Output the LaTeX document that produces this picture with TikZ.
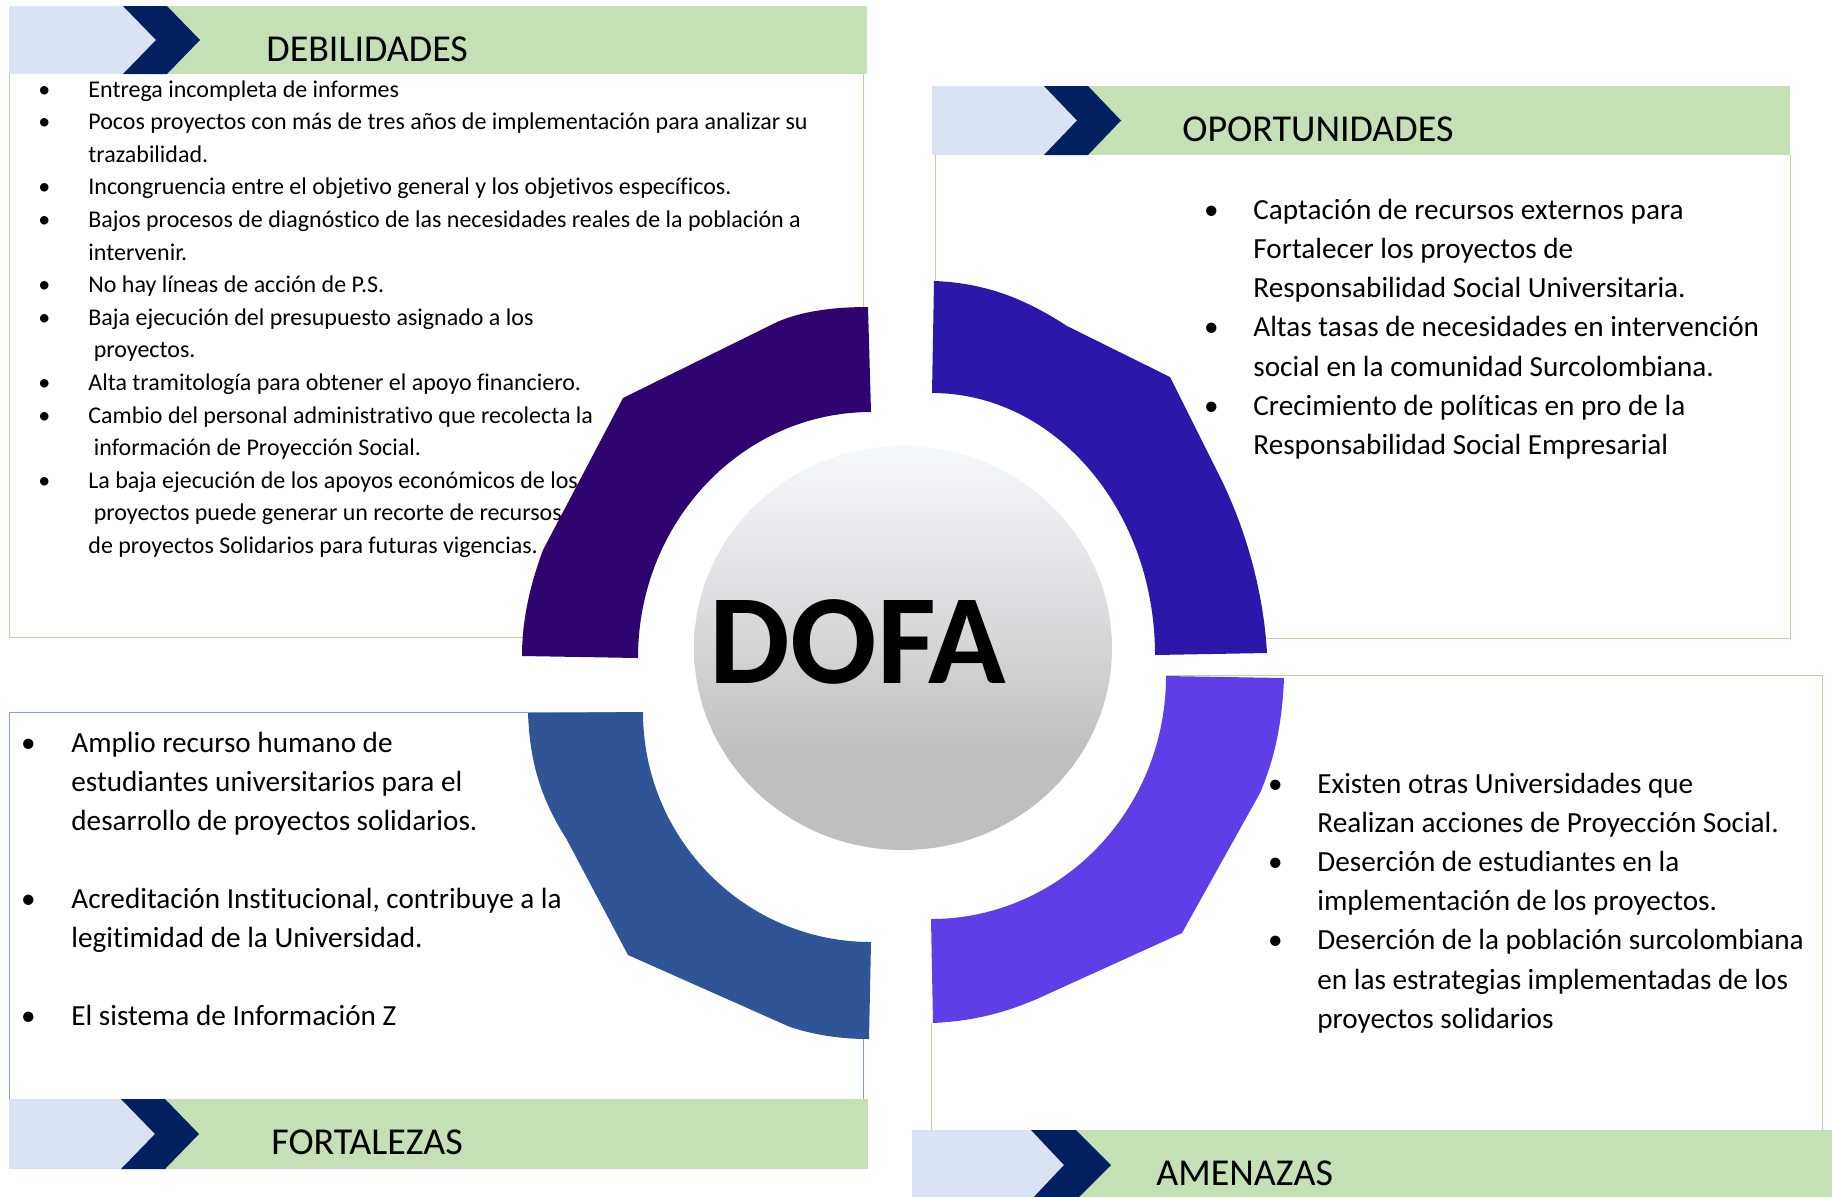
\documentclass[tikz,border=0pt]{standalone}
\usepackage{fontspec}
\setmainfont{Carlito}[Ligatures=NoCommon]
\usepackage{array}
\usepackage{tikz}
\usetikzlibrary{shapes.geometric}

\definecolor{azulClaro}{HTML}{DAE3F3}
\definecolor{azulOscuro}{HTML}{002060}
\definecolor{verdeClaro}{HTML}{C5E0B4}
\definecolor{bordeVerde}{HTML}{B4D79C}
\definecolor{bordeAzul}{HTML}{7F9FD6}
\definecolor{arcoDeb}{HTML}{2E0470}
\definecolor{arcoOp}{HTML}{2B17A9}
\definecolor{arcoFor}{HTML}{2F5597}
\definecolor{arcoAm}{HTML}{5F3EE8}
\definecolor{grisA}{HTML}{F6F9FC}
\definecolor{grisM}{HTML}{D4D5D7}
\definecolor{grisB}{HTML}{BFBFBF}
\pgfdeclareverticalshading{dofabola}{100bp}{color(0bp)=(grisB); color(37bp)=(grisB); color(50bp)=(grisM); color(75bp)=(grisA); color(100bp)=(grisA)}

\begin{document}
\begin{tikzpicture} [x=0.5pt, y=-0.5pt,
                cinta/.style={fill=verdeClaro},
                cola/.style={fill=azulClaro},
                chevron/.style={fill=azulOscuro},
                titulo/.style={anchor=base west, inner sep=0pt, font=\fontsize{19}{19}\selectfont},
                lista/.style={anchor=base west, inner sep=0pt, align=left},
                marco/.style={draw=bordeVerde, line width=0.5pt},
                marcoAzul/.style={draw=bordeAzul, line width=0.5pt},
                bola/.style={ellipse, minimum width=209pt, minimum height=202pt, inner sep=0pt, shading=dofabola},
                dofaTxt/.style={anchor=base, inner sep=0pt, font=\fontsize{64}{64}\selectfont\bfseries}
            ]
            \useasboundingbox (0,0) rectangle (1832,1196);
            \clip (0,0) rectangle (1832,1196);

            % Box borders
            \draw[marco] (863,307) -- (863,74);
            \draw[marco] (9,74) -- (9,637) -- (523,637);
            \draw[marco] (935,281) -- (935,155);
            \draw[marco] (1790,155) -- (1790,638) -- (1267,638);
            \draw[marcoAzul] (631,712) -- (9,712) -- (9,1099);
            \draw[marcoAzul] (863,1039) -- (863,1099);
            \draw[marco] (1166,675) -- (1822,675) -- (1822,1130);
            \draw[marco] (931,1023) -- (931,1130);

            % Debilidades header
            \begin{scope}
                \fill[cinta] (9,6) rectangle (867,74);
                \fill[cola] (9,6) rectangle (167,74);
                \fill[chevron] (123,6) -- (167,6) -- (200,40) -- (167,74) -- (123,74) -- (156,40) -- cycle;
                \node[titulo] (debTit) at (266,61) {DEBILIDADES};
            \end{scope}

            % Oportunidades header
            \begin{scope}
                \fill[cinta] (932,86) rectangle (1790,155);
                \fill[cola] (932,86) rectangle (1088,155);
                \fill[chevron] (1044,86) -- (1088,86) -- (1121,120.5) -- (1088,155) -- (1044,155) -- (1077,120.5) -- cycle;
                \node[titulo] (opTit) at (1182,141) {OPORTUNIDADES};
            \end{scope}

            % Fortalezas header
            \begin{scope}
                \fill[cinta] (9,1099) rectangle (868,1169);
                \fill[cola] (9,1099) rectangle (165,1169);
                \fill[chevron] (121,1099) -- (165,1099) -- (199,1134) -- (165,1169) -- (121,1169) -- (155,1134) -- cycle;
                \node[titulo] (forTit) at (271,1154) {FORTALEZAS};
            \end{scope}

            % Amenazas header
            \begin{scope}
                \fill[cinta] (912,1130) rectangle (1832,1200);
                \fill[cola] (912,1130) rectangle (1076,1200);
                \fill[chevron] (1031,1130) -- (1076,1130) -- (1111,1165) -- (1076,1200) -- (1031,1200) -- (1064,1165) -- cycle;
                \node[titulo] (amTit) at (1156,1185) {AMENAZAS};
            \end{scope}

            % Lists
            \node[lista, font=\fontsize{12}{16.3}\selectfont] (debLista) at (0,97) {%
                \begin{tabular}[t]{@{}>{\centering\arraybackslash}p{44pt}@{}l@{}}
                \textbullet & Entrega incompleta de informes\\
                \textbullet & Pocos proyectos con más de tres años de implementación para analizar su\\
                 & trazabilidad.\\
                \textbullet & Incongruencia entre el objetivo general y los objetivos específicos.\\
                \textbullet & Bajos procesos de diagnóstico de las necesidades reales de la población a\\
                 & intervenir.\\
                \textbullet & No hay líneas de acción de P.S.\\
                \textbullet & Baja ejecución del presupuesto asignado a los\\
                 & \ proyectos.\\
                \textbullet & Alta tramitología para obtener el apoyo financiero.\\
                \textbullet & Cambio del personal administrativo que recolecta la\\
                 & \ información de Proyección Social.\\
                \textbullet & La baja ejecución de los apoyos económicos de los\\
                 & \ proyectos puede generar un recorte de recursos\\
                 & de proyectos Solidarios para futuras vigencias.
                \end{tabular}};

            \node[lista, font=\fontsize{14.6}{19.65}\selectfont] (opLista) at (1169,219) {%
                \begin{tabular}[t]{@{}>{\centering\arraybackslash}p{42pt}@{}l@{}}
                \textbullet & Captación de recursos externos para\\
                 & Fortalecer los proyectos de\\
                 & Responsabilidad Social Universitaria.\\
                \textbullet & Altas tasas de necesidades en intervención\\
                 & social en la comunidad Surcolombiana.\\
                \textbullet & Crecimiento de políticas en pro de la\\
                 & Responsabilidad Social Empresarial
                \end{tabular}};

            \node[lista, font=\fontsize{14.6}{19.5}\selectfont] (forLista) at (-15,752) {%
                \begin{tabular}[t]{@{}>{\centering\arraybackslash}p{43pt}@{}l@{}}
                \textbullet & Amplio recurso humano de\\
                 & estudiantes universitarios para el\\
                 & desarrollo de proyectos solidarios.\\
                 & \\
                \textbullet & Acreditación Institucional, contribuye a la\\
                 & legitimidad de la Universidad.\\
                 & \\
                \textbullet & El sistema de Información Z
                \end{tabular}};

            \node[lista, font=\fontsize{14.6}{19.6}\selectfont] (amLista) at (1233,793) {%
                \begin{tabular}[t]{@{}>{\centering\arraybackslash}p{42pt}@{}l@{}}
                \textbullet & Existen otras Universidades que\\
                 & Realizan acciones de Proyección Social.\\
                \textbullet & Deserción de estudiantes en la\\
                 & implementación de los proyectos.\\
                \textbullet & Deserción de la población surcolombiana\\
                 & en las estrategias implementadas de los\\
                 & proyectos solidarios
                \end{tabular}};

            % Ring segments
            \fill[arcoDeb] (868,307) .. controls (830,307) and (800,312) .. (777,322) -- (623,398) -- (543,550)
                .. controls (530,585) and (522,620) .. (522,656) -- (638,658)
                .. controls (638,522) and (742,412) .. (871,412) -- cycle;
            \fill[arcoOp] (934,281) .. controls (990,283) and (1030,302) .. (1067,326) -- (1170,377) -- (1223,483)
                .. controls (1250,540) and (1264,600) .. (1267,653) -- (1155,655)
                .. controls (1155,510) and (1055,393) .. (932,393) -- cycle;
            \fill[arcoFor] (528,713) .. controls (530,770) and (545,805) .. (567,840) -- (628,955) -- (790,1027)
                .. controls (815,1035) and (840,1039) .. (869,1039) -- (871,942)
                .. controls (745,942) and (643,839) .. (643,712) -- cycle;
            \fill[arcoAm] (1284,678) .. controls (1282,730) and (1272,765) .. (1260,793) -- (1182,933) -- (1050,993)
                .. controls (1010,1012) and (975,1021) .. (933,1023) -- (931,919)
                .. controls (1061,919) and (1166,810) .. (1166,676) -- cycle;

            % Center
            \node[bola] (centro) at (903,648) {};
            \node[dofaTxt] (dofa) at (858,683) {DOFA};
        \end{tikzpicture}
\end{document}
